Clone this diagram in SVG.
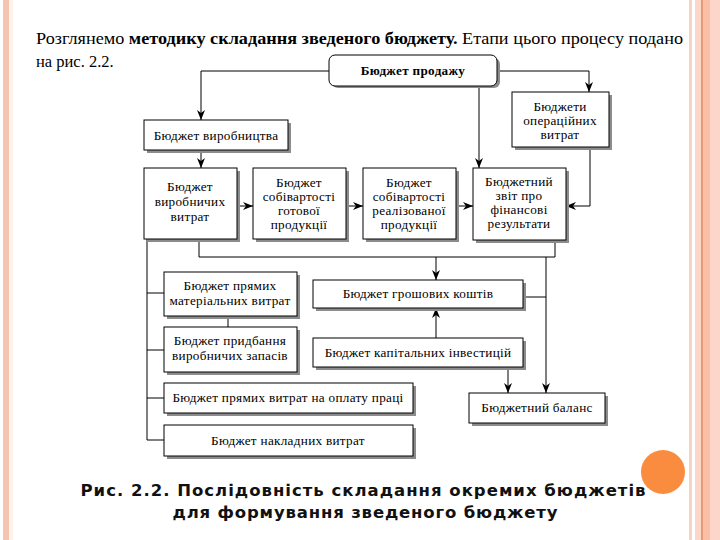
<svg xmlns="http://www.w3.org/2000/svg" width="720" height="540" viewBox="0 0 720 540">
<defs>
<marker id="arr" viewBox="0 0 10 8" refX="10" refY="4" markerWidth="10" markerHeight="8" markerUnits="userSpaceOnUse" orient="auto">
<path d="M0,0 L10,4 L0,8 L3,4 z" fill="#000"/>
</marker>
<style>
.box{fill:#fff;stroke:#000;stroke-width:1}
.sh{fill:#8c8c8c}
.t{font-family:"Liberation Serif","DejaVu Serif",serif;font-size:13.2px;fill:#000;text-anchor:middle;letter-spacing:0.3px}
.intro{font-family:"Liberation Serif","DejaVu Serif",serif;font-size:16.5px;fill:#000}
.c{fill:none;stroke:#000;stroke-width:1}
.ca{fill:none;stroke:#000;stroke-width:1;marker-end:url(#arr)}
.cap{font-family:"DejaVu Sans","Noto Sans",sans-serif;font-weight:bold;font-size:16.5px;fill:#111;text-anchor:middle}
</style>
</defs>
<rect width="720" height="540" fill="#fff"/>
<rect x="3" y="0" width="6" height="540" fill="#f6c4b2"/>
<rect x="9" y="0" width="4" height="540" fill="#fdf3ea"/>
<rect x="689" y="0" width="3" height="540" fill="#f7d3c6"/>
<rect x="695" y="0" width="25" height="540" fill="#fcd6c8"/>
<rect x="701" y="0" width="2" height="540" fill="#e89a78"/>
<rect x="703" y="0" width="7" height="540" fill="#fbbfa6"/>
<circle cx="663" cy="472" r="22" fill="#f98c3e"/>

<text x="36" y="44" class="intro" textLength="647" lengthAdjust="spacingAndGlyphs">Розглянемо <tspan font-weight="bold">методику складання зведеного бюджету.</tspan>  Етапи цього процесу подано</text>
<text x="36" y="67" class="intro">на рис. 2.2.</text>

<g id="connectors">
<polyline class="ca" points="329,71 201,71 201,120"/>
<polyline class="ca" points="497,71 589,71 589,92"/>
<polyline class="ca" points="479,86 479,168"/>
<polyline class="ca" points="201,150 201,168"/>
<polyline class="ca" points="237,206 253,206"/>
<polyline class="ca" points="346,206 363,206"/>
<polyline class="ca" points="456,206 473,206"/>
<polyline class="ca" points="590,147 590,206 566,206"/>
<polyline class="c" points="199,239 199,257 555,257 555,240"/>
<polyline class="ca" points="436,257 436,280"/>
<polyline class="ca" points="546,257 546,393"/>
<polyline class="c" points="523,297 546,297"/>
<polyline class="ca" points="436,338 436,308"/>
<polyline class="ca" points="508,367 508,393"/>
<polyline class="c" points="147,239 147,440"/>
<polyline class="c" points="147,293 164,293"/>
<polyline class="c" points="147,350 164,350"/>
<polyline class="c" points="147,398 164,398"/>
<polyline class="c" points="147,440 164,440"/>
<polyline class="c" points="228,316 228,327"/>
</g>

<g id="n-sales">
<rect x="332" y="58" width="168" height="30" rx="6" class="sh"/>
<rect x="329" y="55" width="168" height="31" rx="6" class="box"/>
<text x="413" y="75" class="t" font-weight="bold" letter-spacing="0">Бюджет продажу</text>
</g>

<g id="n-production">
<rect x="147" y="123" width="144" height="30" class="sh"/>
<rect x="144" y="120" width="144" height="30" class="box"/>
<text x="216" y="140" class="t">Бюджет виробництва</text>
</g>

<g id="n-opex">
<rect x="515" y="95" width="97" height="55" class="sh"/>
<rect x="512" y="92" width="97" height="55" class="box"/>
<text x="560" y="111" class="t">Бюджети</text>
<text x="560" y="125" class="t">операційних</text>
<text x="560" y="139" class="t">витрат</text>
</g>

<g id="n-prodcost">
<rect x="147" y="171" width="93" height="71" class="sh"/>
<rect x="144" y="168" width="93" height="71" class="box"/>
<text x="190" y="191" class="t">Бюджет</text>
<text x="190" y="206" class="t">виробничих</text>
<text x="190" y="221" class="t">витрат</text>
</g>

<g id="n-finished">
<rect x="256" y="171" width="93" height="71" class="sh"/>
<rect x="253" y="168" width="93" height="71" class="box"/>
<text x="299" y="187" class="t">Бюджет</text>
<text x="299" y="201" class="t">собівартості</text>
<text x="299" y="215" class="t">готової</text>
<text x="299" y="229" class="t">продукції</text>
</g>

<g id="n-sold">
<rect x="366" y="171" width="93" height="71" class="sh"/>
<rect x="363" y="168" width="93" height="71" class="box"/>
<text x="409" y="187" class="t">Бюджет</text>
<text x="409" y="201" class="t">собівартості</text>
<text x="409" y="215" class="t">реалізованої</text>
<text x="409" y="229" class="t">продукції</text>
</g>

<g id="n-report">
<rect x="476" y="171" width="93" height="72" class="sh"/>
<rect x="473" y="168" width="93" height="72" class="box"/>
<text x="519" y="186" class="t">Бюджетний</text>
<text x="519" y="200" class="t">звіт про</text>
<text x="519" y="214" class="t">фінансові</text>
<text x="519" y="228" class="t">результати</text>
</g>

<g id="n-materials">
<rect x="167" y="275" width="133" height="44" class="sh"/>
<rect x="164" y="272" width="133" height="44" class="box"/>
<text x="230" y="290" class="t">Бюджет прямих</text>
<text x="230" y="305" class="t">матеріальних витрат</text>
</g>

<g id="n-purchase">
<rect x="167" y="330" width="133" height="45" class="sh"/>
<rect x="164" y="327" width="133" height="45" class="box"/>
<text x="230" y="345" class="t">Бюджет придбання</text>
<text x="230" y="360" class="t">виробничих запасів</text>
</g>

<g id="n-labor">
<rect x="167" y="386" width="249" height="30" class="sh"/>
<rect x="164" y="383" width="249" height="30" class="box"/>
<text x="288" y="402" class="t">Бюджет прямих витрат на оплату праці</text>
</g>

<g id="n-overhead">
<rect x="167" y="428" width="249" height="31" class="sh"/>
<rect x="164" y="425" width="249" height="31" class="box"/>
<text x="288" y="445" class="t">Бюджет накладних витрат</text>
</g>

<g id="n-cash">
<rect x="316" y="283" width="210" height="28" class="sh"/>
<rect x="313" y="280" width="210" height="28" class="box"/>
<text x="418" y="298" class="t">Бюджет грошових коштів</text>
</g>

<g id="n-capex">
<rect x="316" y="341" width="210" height="29" class="sh"/>
<rect x="313" y="338" width="210" height="29" class="box"/>
<text x="418" y="357" class="t">Бюджет капітальних інвестицій</text>
</g>

<g id="n-balance">
<rect x="472" y="396" width="136" height="30" class="sh"/>
<rect x="469" y="393" width="136" height="30" class="box"/>
<text x="537" y="412" class="t">Бюджетний баланс</text>
</g>

<text x="363" y="496" class="cap" textLength="565" lengthAdjust="spacing">Рис. 2.2. Послідовність складання окремих бюджетів</text>
<text x="365" y="518" class="cap" textLength="385" lengthAdjust="spacing">для формування зведеного бюджету</text>
</svg>
